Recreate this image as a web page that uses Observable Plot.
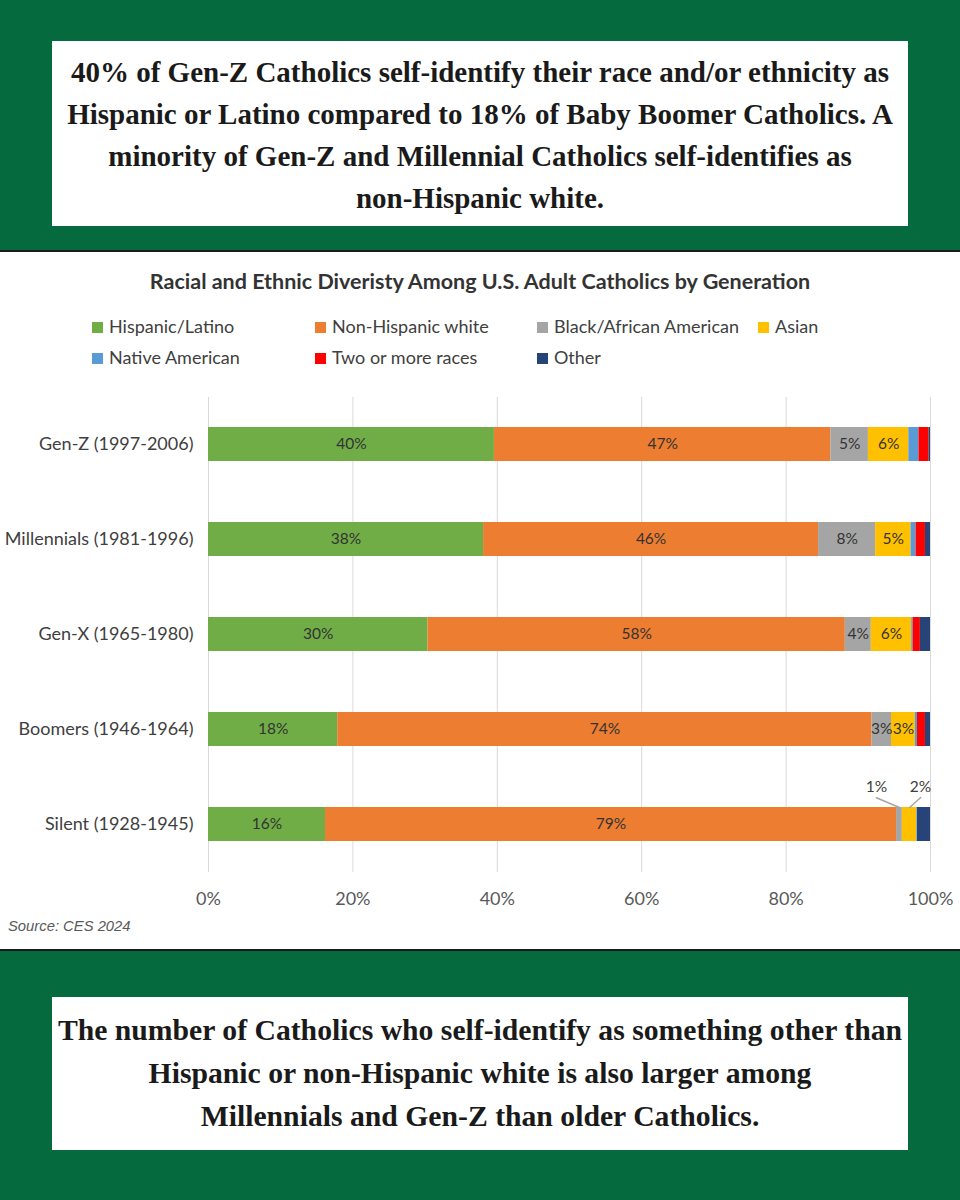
<!DOCTYPE html>
<html>
<head>
<meta charset="utf-8">
<script src="https://cdn.jsdelivr.net/npm/d3@7"></script>
<script src="https://cdn.jsdelivr.net/npm/@observablehq/plot@0.6"></script>
<style>
  html, body { margin: 0; padding: 0; }
  body { width: 960px; height: 1200px; background: #056b3e; position: relative; overflow: hidden; }
  .box { position: absolute; left: 52px; width: 856px; background: #fff; text-align: center;
         font-family: "Liberation Serif", "DejaVu Serif", serif; font-weight: bold; color: #1a1a1a; }
  #top { top: 41px; height: 185px; font-size: 29px; line-height: 42px; padding-top: 10px; box-sizing: border-box; }
  #bottom { top: 997px; height: 153px; font-size: 29.7px; line-height: 43px; padding-top: 12px; box-sizing: border-box; }
  #panel { position: absolute; left: 0; top: 250px; width: 960px; height: 701px; background: #fff;
           border-top: 2px solid #1b1b1b; border-bottom: 2px solid #1b1b1b; box-sizing: border-box; }
  #title { position: absolute; top: 16px; left: 0; width: 960px; text-align: center; font-family: Lato, sans-serif;
           font-weight: bold; font-size: 21.5px; color: #333; }
  #legend { position: absolute; top: 63px; left: 0; width: 960px; font-family: Lato, sans-serif; font-size: 18px; color: #404040; }
  .li { position: absolute; white-space: nowrap; line-height: 22px; }
  .sw { display: inline-block; width: 11px; height: 11px; margin-right: 6px; vertical-align: 0px; }
  #chart { position: absolute; left: 0; top: 128px; }
  #source { position: absolute; left: 8px; top: 666px; font-family: "Liberation Sans Narrow", "Liberation Sans", sans-serif;
            font-style: italic; font-size: 14.8px; color: #595959; }
</style>
</head>
<body>
<div class="box" id="top">40% of Gen-Z Catholics self-identify their race and/or ethnicity as<br>Hispanic or Latino compared to 18% of Baby Boomer Catholics. A<br>minority of Gen-Z and Millennial Catholics self-identifies as<br>non-Hispanic white.</div>
<div id="panel">
  <div id="title">Racial and Ethnic Diveristy Among U.S. Adult Catholics by Generation</div>
  <div id="legend"></div>
  <div id="chart"></div>
  <div id="source">Source: CES 2024</div>
</div>
<div class="box" id="bottom">The number of Catholics who self-identify as something other than<br>Hispanic or non-Hispanic white is also larger among<br>Millennials and Gen-Z than older Catholics.</div>
<script>
const generations = ["Gen-Z (1997-2006)", "Millennials (1981-1996)", "Gen-X (1965-1980)", "Boomers (1946-1964)", "Silent (1928-1945)"];
const races = ["Hispanic/Latino", "Non-Hispanic white", "Black/African American", "Asian", "Native American", "Two or more races", "Other"];
const colors = ["#70ad47", "#ed7d31", "#a5a5a5", "#ffc000", "#5b9bd5", "#ff0000", "#264478"];
// values per race (in race order), one array per generation
const genZ        = [39.6, 46.6, 5.2, 5.6, 1.4, 1.4, 0.2];
const millennials = [38.1, 46.4, 7.9, 4.9, 0.7, 1.3, 0.7];
const genX        = [30.4, 57.8, 3.6, 5.6, 0.2, 1.0, 1.4];
const boomers     = [17.9, 74.0, 2.7, 3.3, 0.3, 1.1, 0.7];
const silent      = [16.2, 79.1, 0.8, 2.0, 0.1, 0.0, 1.8];
const xTicks = [0, 20, 40, 60, 80, 100];
const calloutRaces = ["Black/African American", "Asian"]; // labelled outside on the Silent bar

const series = [genZ, millennials, genX, boomers, silent];
const data = [];
series.forEach((vals, gi) => vals.forEach((v, ri) => data.push({gen: generations[gi], race: races[ri], value: v})));

// Legend
const legend = document.getElementById("legend");
const legendCols = [92, 315, 537, 758];
races.forEach((r, i) => {
  const el = document.createElement("div");
  el.className = "li";
  el.style.left = legendCols[i % 4] + "px";
  el.style.top = (i < 4 ? 0 : 31) + "px";
  el.innerHTML = `<span class="sw" style="background:${colors[i]}"></span>${r}`;
  legend.appendChild(el);
});

// Callout data (Silent, small segments)
const silentStart = {};
let acc = 0;
silent.forEach((v, i) => { silentStart[races[i]] = acc; acc += v; });
const callouts = calloutRaces.map(r => ({gen: generations[4], race: r, mid: silentStart[r] + silent[races.indexOf(r)] / 2, value: silent[races.indexOf(r)]}));
const leader = {draw(ctx, l) { ctx.moveTo(0, 0); ctx.lineTo(0, -l); }};
const calloutStyle = [
  {dx: -23, length: 25, rotate: -67},
  {dx: 11, length: 15, rotate: 48}
];
const calloutMarks = callouts.flatMap((c, i) => [
  Plot.vector([c], {x: "mid", y: "gen", anchor: "start", dy: -17, stroke: "#a5a5a5", strokeWidth: 1.5,
    length: calloutStyle[i].length, rotate: calloutStyle[i].rotate, shape: leader}),
  Plot.text([c], {x: "mid", y: "gen", text: d => Math.round(d.value) + "%",
    dx: calloutStyle[i].dx, dy: -37, fill: "#404040", fontSize: 15.5})
]);

const plot = Plot.plot({
  width: 960,
  height: 535,
  marginTop: 17,
  marginBottom: 43,
  marginLeft: 208,
  marginRight: 30,
  style: {fontFamily: "Lato, sans-serif", background: "transparent"},
  x: {domain: [0, 100], ticks: xTicks, tickFormat: d => d + "%", label: null},
  y: {domain: generations, paddingInner: 0.64, paddingOuter: 0.32, label: null},
  color: {domain: races, range: colors},
  marks: [
    Plot.gridX(xTicks, {stroke: "#d9d9d9", strokeOpacity: 1, strokeWidth: 1}),
    Plot.axisX({ticks: xTicks, tickSize: 0, tickPadding: 20, fontSize: 18, fill: "#595959", tickFormat: d => d + "%"}),
    Plot.axisY({tickSize: 0, tickPadding: 15, fontSize: 18, fill: "#404040"}),
    Plot.barX(data, Plot.stackX({x: "value", y: "gen", fill: "race", order: races})),
    Plot.text(data, Plot.stackX({x: "value", y: "gen", z: "race", order: races,
      text: d => d.value >= 2.5 ? Math.round(d.value) + "%" : "", fill: "#333333", fontSize: 15.5})),
    ...calloutMarks
  ]
});
document.getElementById("chart").appendChild(plot);
</script>
</body>
</html>
